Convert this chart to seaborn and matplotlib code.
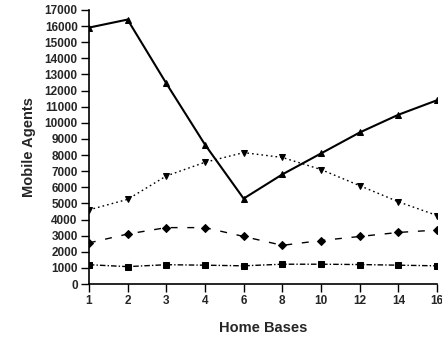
import matplotlib
matplotlib.use('Agg')
import matplotlib.pyplot as plt
import seaborn as sns
import pandas as pd

home_bases = ['1', '2', '3', '4', '6', '8', '10', '12', '14', '16']
tri_up = [15900, 16400, 12450, 8650, 5300, 6800, 8100, 9400, 10500, 11400]
tri_down = [4600, 5250, 6700, 7550, 8150, 7850, 7100, 6100, 5100, 4250]
diamond = [2550, 3100, 3500, 3500, 2950, 2400, 2700, 2950, 3200, 3350]
square = [1200, 1080, 1200, 1170, 1130, 1230, 1230, 1210, 1170, 1130]

sns.set_style('ticks')
plt.rcParams['font.family'] = ['Liberation Sans', 'DejaVu Sans']

fig = plt.figure(figsize=(4.42, 3.41), dpi=100)
ax = fig.add_axes([0.201, 0.167, 0.788, 0.804])

series = [
    (tri_up, '^', '-', 1.5),
    (tri_down, 'v', (0, (1.2, 2.2)), 1.0),
    (diamond, 'D', (0, (5, 7)), 1.0),
    (square, 's', (0, (4, 1.5, 1, 1.5)), 1.0),
]
for vals, mk, ls, lw in series:
    df = pd.DataFrame({'x': home_bases, 'y': vals})
    sns.lineplot(data=df, x='x', y='y', ax=ax, color='black', marker=mk,
                 markersize=5 if mk != 'D' else 4, linestyle=ls, linewidth=lw,
                 markeredgecolor='black', sort=False)

ax.set_xlim(0, len(home_bases) - 1)
ax.set_ylim(0, 17000)
ax.set_yticks(range(0, 17001, 1000))
ax.set_xlabel('Home Bases', fontsize=10.5, fontweight='bold', labelpad=10)
ax.set_ylabel('Mobile Agents', fontsize=10.5, fontweight='bold', labelpad=6)
ax.tick_params(axis='both', labelsize=8.5, length=6, width=1, pad=2,
               direction='out', color='black')
for lab in ax.get_xticklabels() + ax.get_yticklabels():
    lab.set_fontweight('bold')
for s in ['top', 'right']:
    ax.spines[s].set_visible(False)
for s in ['left', 'bottom']:
    ax.spines[s].set_linewidth(1.2)
    ax.spines[s].set_color('black')

fig.savefig('out.png', dpi=100)
